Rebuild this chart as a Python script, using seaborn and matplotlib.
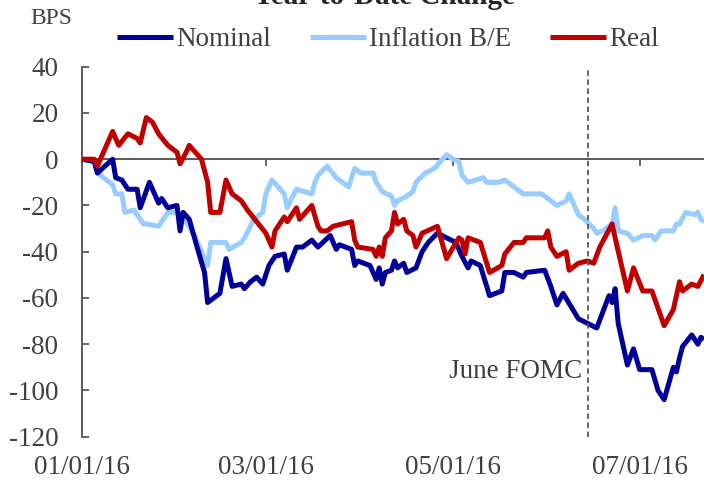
import matplotlib
matplotlib.use("Agg")
import matplotlib.pyplot as plt
import matplotlib.dates as mdates
import seaborn as sns
import pandas as pd

# ---------------- data (basis points, year-to-date change) ----------------
nominal_dates = ["01-01", "01-05", "01-06", "01-11", "01-12", "01-14", "01-16", "01-19", "01-20", "01-23",
                 "01-26", "01-27", "01-29", "02-01", "02-02", "02-03", "02-05", "02-08", "02-10", "02-11",
                 "02-15", "02-17", "02-19", "02-22", "02-23", "02-25", "02-27", "02-29", "03-02", "03-04",
                 "03-07", "03-08", "03-11", "03-13", "03-16", "03-18", "03-22", "03-24", "03-25", "03-29",
                 "03-30", "03-31", "04-04", "04-06", "04-07", "04-08", "04-09", "04-11", "04-12", "04-13",
                 "04-15", "04-16", "04-19", "04-21", "04-23", "04-26", "04-29", "05-02", "05-04", "05-06",
                 "05-07", "05-10", "05-13", "05-17", "05-18", "05-21", "05-24", "05-25", "05-31", "06-02",
                 "06-04", "06-06", "06-11", "06-14", "06-17", "06-21", "06-22", "06-23", "06-24", "06-27",
                 "06-29", "07-01", "07-05", "07-07", "07-09", "07-12", "07-13", "07-14", "07-15", "07-18",
                 "07-20", "07-21", "07-22"]
nominal = [0, -1, -6, 0, -8, -9, -13, -13, -21, -10,
           -19, -17, -21, -20, -31, -23, -26, -40, -49, -62,
           -58, -43, -55, -54, -56, -53, -51, -54, -46, -42,
           -41, -48, -38, -38, -35, -38, -33, -39, -37, -39,
           -46, -44, -46, -52, -47, -54, -49, -48, -44, -47,
           -45, -49, -47, -40, -36, -32, -34, -36, -42, -47,
           -44, -46, -59, -57, -49, -49, -51, -49, -48, -55,
           -63, -58, -69, -71, -73, -59, -62, -56, -71, -89,
           -82, -91, -91, -100, -104, -90, -92, -86, -81, -76,
           -80, -77, -78]

inflation_dates = ["01-01", "01-05", "01-07", "01-09", "01-11", "01-12", "01-14", "01-15", "01-18", "01-21",
                   "01-22", "01-26", "01-29", "02-01", "02-03", "02-04", "02-07", "02-09", "02-11", "02-12",
                   "02-17", "02-18", "02-22", "02-23", "02-25", "02-26", "02-29", "03-01", "03-03", "03-05",
                   "03-07", "03-08", "03-09", "03-11", "03-16", "03-17", "03-18", "03-21", "03-24", "03-28",
                   "03-30", "04-01", "04-05", "04-06", "04-08", "04-11", "04-12", "04-13", "04-16", "04-18",
                   "04-19", "04-22", "04-25", "04-27", "04-29", "05-01", "05-03", "05-04", "05-06", "05-11",
                   "05-12", "05-16", "05-18", "05-21", "05-24", "05-30", "06-01", "06-04", "06-07", "06-08",
                   "06-11", "06-13", "06-16", "06-17", "06-19", "06-22", "06-23", "06-24", "06-27", "06-29",
                   "07-02", "07-05", "07-06", "07-08", "07-12", "07-13", "07-14", "07-16", "07-19", "07-20",
                   "07-21", "07-22"]
inflation = [0, -1, -7, -9, -11, -15, -15, -23, -22, -28,
             -28, -29, -23, -23, -27, -27, -34, -40, -46, -36,
             -36, -39, -36, -34, -29, -26, -23, -15, -9, -12,
             -15, -21, -18, -13, -15, -10, -7, -3, -8, -12,
             -4, -6, -6, -10, -14, -16, -20, -18, -16, -14,
             -10, -6, -4, -1, 2, 0, -1, -7, -10, -8,
             -10, -10, -9, -12, -15, -15, -17, -20, -18, -15,
             -24, -26, -30, -32, -31, -28, -21, -31, -32, -35,
             -33, -33, -35, -31, -31, -28, -28, -23, -24, -23,
             -26, -27]

real_dates = ["01-01", "01-05", "01-06", "01-11", "01-13", "01-16", "01-19", "01-20", "01-22", "01-24",
              "01-26", "01-29", "02-01", "02-02", "02-04", "02-05", "02-09", "02-11", "02-12", "02-15",
              "02-17", "02-19", "02-22", "02-24", "03-01", "03-03", "03-04", "03-07", "03-08", "03-11",
              "03-12", "03-16", "03-18", "03-19", "03-21", "03-23", "03-29", "03-30", "03-31", "04-05",
              "04-06", "04-07", "04-08", "04-09", "04-11", "04-12", "04-13", "04-15", "04-16", "04-18",
              "04-19", "04-21", "04-26", "04-29", "05-03", "05-04", "05-05", "05-06", "05-10", "05-13",
              "05-17", "05-18", "05-21", "05-24", "05-25", "05-31", "06-01", "06-02", "06-04", "06-07",
              "06-08", "06-11", "06-14", "06-16", "06-18", "06-22", "06-23", "06-27", "06-29", "07-02",
              "07-05", "07-09", "07-12", "07-14", "07-15", "07-18", "07-20", "07-22"]
real = [0, 0, -3, 12, 6, 11, 9, 7, 18, 16,
        11, 6, 3, -2, 3, 6, 0, -10, -23, -23,
        -9, -15, -18, -22, -32, -38, -31, -25, -27, -21,
        -26, -20, -29, -31, -31, -29, -27, -35, -38, -39,
        -42, -38, -42, -34, -31, -23, -28, -26, -31, -33,
        -38, -32, -29, -43, -34, -35, -41, -34, -36, -49,
        -46, -41, -36, -36, -34, -34, -31, -38, -42, -40,
        -48, -45, -44, -45, -38, -28, -34, -57, -47, -57,
        -57, -72, -65, -53, -57, -54, -55, -50]

series_names = ["Nominal", "Inflation B/E", "Real"]
fomc_date = "2016-06-14"
fomc_label = "June FOMC"
title_text = "Year-to-Date Change"
y_unit = "BPS"
y_ticks = [40, 20, 0, -20, -40, -60, -80, -100, -120]


def to_dt(lst):
    return pd.to_datetime(["2016-" + s for s in lst])


# ---------------- style ----------------
sns.set_theme(style="white")
plt.rcParams["font.family"] = ["Liberation Serif", "DejaVu Serif"]
plt.rcParams["axes.unicode_minus"] = False
TXT = "#404040"
AXC = "#595959"
FS = 19.5

fig = plt.figure(figsize=(7.04, 4.8), dpi=100)
ax = fig.add_axes([82 / 704, 1 - 436.7 / 480, 1 - 82 / 704, (436.7 - 66.7) / 480])

colors = {"Nominal": "#000099", "Inflation B/E": "#99CCFF", "Real": "#C00000"}
frames = {
    "Nominal": (to_dt(nominal_dates), nominal, 3),
    "Inflation B/E": (to_dt(inflation_dates), inflation, 2),
    "Real": (to_dt(real_dates), real, 4),
}
for name in series_names:
    x, y, z = frames[name]
    sns.lineplot(x=x, y=y, ax=ax, color=colors[name], linewidth=3.6,
                 label=name, zorder=z, solid_joinstyle="round", solid_capstyle="butt")

ax.set_xlim(pd.Timestamp("2016-01-01"), pd.Timestamp("2016-07-22"))
ax.set_ylim(-120, 40)
ax.set_yticks(y_ticks)
ax.set_xlabel("")
ax.set_ylabel("")

for s in ["top", "right"]:
    ax.spines[s].set_visible(False)
ax.spines["left"].set_color(AXC)
ax.spines["left"].set_linewidth(1.4)
ax.spines["bottom"].set_position(("data", 0))
ax.spines["bottom"].set_color(AXC)
ax.spines["bottom"].set_linewidth(1.4)
ax.spines["bottom"].set_zorder(1)

locator = mdates.MonthLocator(bymonth=[1, 3, 5, 7])
ax.xaxis.set_major_locator(locator)
ax.tick_params(axis="x", direction="out", length=5, width=1.3, color=AXC,
               labelbottom=False, bottom=True)
ax.tick_params(axis="y", direction="in", length=5, width=1.3, color=AXC,
               labelsize=FS, labelcolor=TXT, pad=17, left=True)

sec = ax.secondary_xaxis(0)
sec.xaxis.set_major_locator(mdates.MonthLocator(bymonth=[1, 3, 5, 7]))
sec.xaxis.set_major_formatter(mdates.DateFormatter("%m/%d/%y"))
sec.tick_params(axis="x", length=0, pad=13, labelsize=FS, labelcolor=TXT)
sec.spines["bottom"].set_visible(False)

# FOMC line and label
fd = pd.Timestamp(fomc_date)
ax.axvline(fd, color=AXC, linewidth=1.3, linestyle=(0, (3, 2)), zorder=5)
ax.annotate(fomc_label, xy=(fd, -92), xytext=(-4, 0), textcoords="offset points",
            ha="right", va="center", fontsize=FS, color=TXT)

# legend
handles, labels = ax.get_legend_handles_labels()
order = [labels.index(n) for n in series_names]
leg = fig.legend([handles[i] for i in order], [labels[i] for i in order],
                 loc="center", bbox_to_anchor=(388 / 704, 1 - 40 / 480), ncol=3,
                 frameon=False, fontsize=FS, handlelength=2.05, handletextpad=0.12,
                 columnspacing=1.45, borderpad=0, borderaxespad=0)
for t in leg.get_texts():
    t.set_color(TXT)
if ax.get_legend() is not None:
    ax.get_legend().remove()

fig.text(30 / 704, 1 - 18 / 480, y_unit, fontsize=17, color=TXT, ha="left", va="center")
fig.text(384 / 704, 1 - 4 / 480, title_text, fontsize=21, fontweight="bold",
         color="#262626", ha="center", va="baseline")

fig.savefig("out.png", dpi=100)
